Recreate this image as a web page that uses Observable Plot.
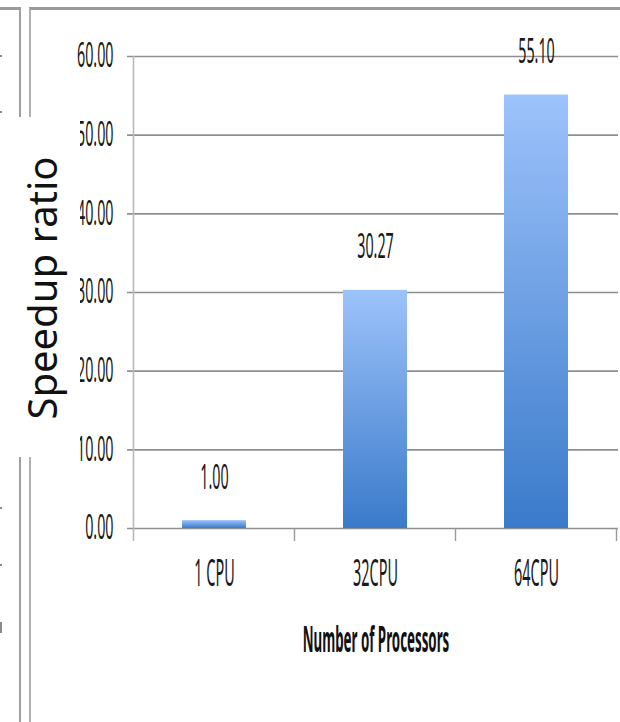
<!DOCTYPE html>
<html><head><meta charset="utf-8">
<script src="https://cdn.jsdelivr.net/npm/d3@7"></script>
<script src="https://cdn.jsdelivr.net/npm/@observablehq/plot@0.6"></script>
<style>
body{margin:0;background:#fff;}
#wrap{position:relative;width:620px;height:722px;overflow:hidden;background:#fff;font-family:"Noto Sans",sans-serif;}
#wrap > svg.plot{position:absolute;left:0;top:0;}
.deco{position:absolute;box-sizing:border-box;pointer-events:none;}
#leftPanel{left:0;top:7px;width:21px;height:720px;border-top:3px solid #9a9a9a;border-right:2px solid #a0a0a0;}
#rightFrame{left:29px;top:7px;width:600px;height:720px;border-top:3px solid #999;border-left:2px solid #b0b0b0;}
#ticks{left:0;top:0;width:2px;height:600px;background:repeating-linear-gradient(to bottom,transparent 0,transparent 54.6px,#8a8a8a 54.6px,#8a8a8a 56.6px);}
#tickLast{left:0;top:622px;width:2px;height:11px;background:#8a8a8a;}
#ylab{position:absolute;left:0;top:117px;}
</style></head><body><div id="wrap">
<div class="deco" id="leftPanel"></div>
<div class="deco" id="rightFrame"></div>
<div class="deco" id="ticks"></div>
<div class="deco" id="tickLast"></div>
</div>
<script>
const categories = ["1 CPU", "32CPU", "64CPU"];
const speedup = [1.00, 30.27, 55.10];
const yTicks = [0, 10, 20, 30, 40, 50, 60];
const yLabel = "Speedup ratio";
const xLabel = "Number of Processors";

const data = categories.map((c, i) => ({cpu: c, value: speedup[i]}));

const chart = Plot.plot({
  width: 620, height: 722,
  marginLeft: 133, marginRight: 2, marginTop: 56, marginBottom: 194,
  style: {fontFamily: "Noto Sans", background: "transparent", color: "#1a1a1a"},
  x: {domain: categories, paddingInner: 0.6, paddingOuter: 0.3, axis: null},
  y: {domain: [0, 60], axis: null},
  marks: [
    Plot.ruleY(yTicks, {stroke: "#8f8f8f", strokeWidth: 1.6, insetLeft: -6}),
    Plot.text(yTicks, {y: d => d, text: d => d.toFixed(2), frameAnchor: "left", dx: -20, textAnchor: "end", fontSize: 34, fill: "#1a1a1a"}),
    Plot.barY(data, {x: "cpu", y: "value", fill: "url(#barGrad)"}),
    Plot.text(data, {x: "cpu", y: "value", text: d => d.value.toFixed(2), dy: -43, fontSize: 34, fill: "#1a1a1a"}),
    Plot.text(categories, {x: d => d, frameAnchor: "bottom", dy: 57, fontSize: 38, fill: "#1a1a1a"}),
    Plot.text([xLabel], {frameAnchor: "bottom", dy: 123, fontSize: 36, fontWeight: "bold", fill: "#111"})
  ]
});

const svg = d3.select(chart);
// gradient
const defs = svg.insert("defs", ":first-child");
const g = defs.append("linearGradient").attr("id", "barGrad").attr("x1", 0).attr("y1", 0).attr("x2", 0).attr("y2", 1);
g.append("stop").attr("offset", "0%").attr("stop-color", "#9dc3fb");
g.append("stop").attr("offset", "100%").attr("stop-color", "#3a7aca");

// axis line and category boundary ticks from scales
const xs = chart.scale("x"), ys = chart.scale("y");
const step = xs.step, bw = xs.bandwidth;
const y0 = ys.apply(0), yTop = ys.apply(60);
const bounds = [];
categories.forEach((c, i) => {
  const cx = xs.apply(c) + bw / 2;
  if (i === 0) bounds.push(cx - step / 2);
  bounds.push(cx + step / 2);
});
const axisG = svg.append("g").attr("aria-label", "axes");
axisG.append("line").attr("x1", bounds[0]).attr("x2", bounds[0]).attr("y1", yTop).attr("y2", y0 + 13)
  .attr("stroke", "#b8b8b8").attr("stroke-width", 1.6);
bounds.slice(1).forEach(b => axisG.append("line").attr("x1", b).attr("x2", b).attr("y1", y0).attr("y2", y0 + 13)
  .attr("stroke", "#9a9a9a").attr("stroke-width", 1.4));

// condense horizontal texts (narrow face look); text marks in order
const textGroups = chart.querySelectorAll('g[aria-label="text"]');
const squeeze = [0.42, 0.42, 0.38, 0.37];
textGroups.forEach((grp, k) => {
  grp.querySelectorAll("text").forEach(t => {
    const tr = t.getAttribute("transform") || "";
    t.setAttribute("transform", tr + ` scale(${squeeze[k]},1)`);
  });
});

const wrap = document.getElementById("wrap");
wrap.insertBefore(chart, wrap.firstChild);

// y-axis title box (overlays the frame)
const lab = d3.select(wrap).append("svg").attr("id", "ylab").attr("width", 80).attr("height", 340);
lab.append("rect").attr("width", 80).attr("height", 340).attr("fill", "#fff");
lab.append("text").attr("transform", "translate(57,171) rotate(-90)")
  .attr("text-anchor", "middle").attr("font-family", "Noto Sans").attr("font-size", 40)
  .attr("fill", "#111").text(yLabel);
</script>
</body></html>
